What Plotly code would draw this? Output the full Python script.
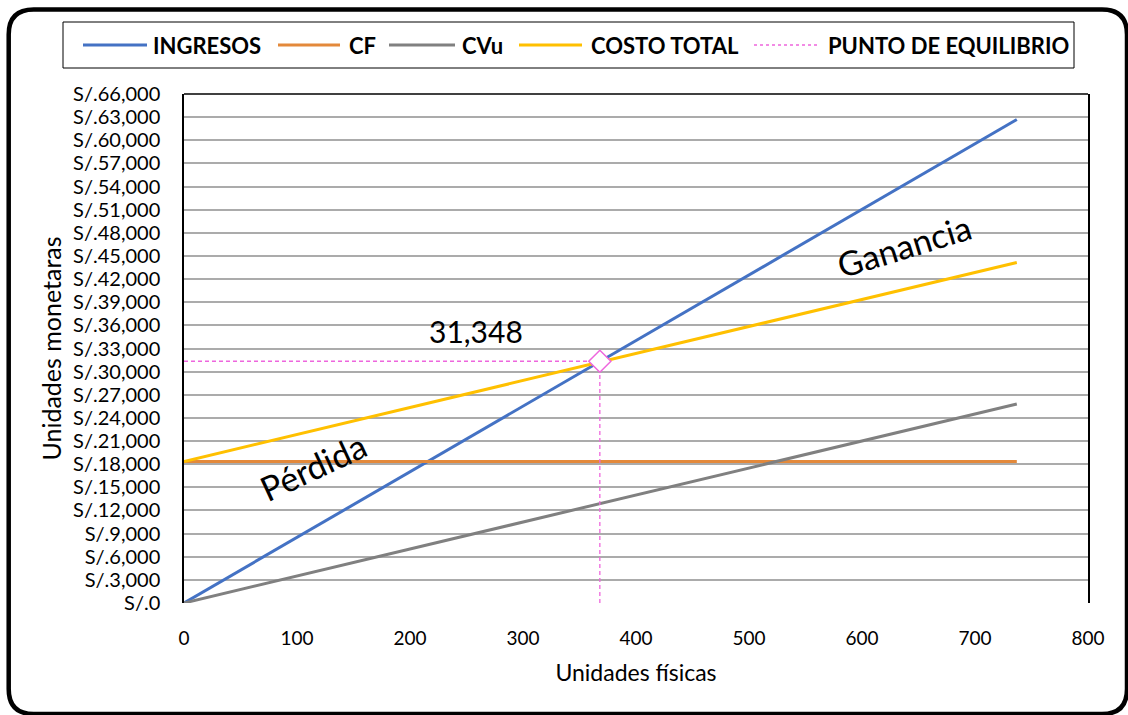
import plotly.graph_objects as go

# ---- data ----
unidades = [0, 737]
ingresos = [0, 62700]
cf = [18350, 18350]
cvu = [0, 25800]
costo_total = [18350, 44150]
pe_x = 368
pe_y = 31348

series_names = ["INGRESOS", "CF", "CVu", "COSTO TOTAL", "PUNTO DE EQUILIBRIO"]
series_colors = ["#4472C4", "#E3893B", "#808080", "#FFC000", "#EE66DD"]

W, H = 1128, 715
L, R, T, B = 184, 40, 94, 112
PW, PH = W - L - R, H - T - B


def px(x):
    return (x - L) / PW


def py(y):
    return (H - B - y) / PH


FONT = "Lato, Open Sans, sans-serif"

fig = go.Figure()
fig.add_trace(go.Scatter(x=unidades, y=ingresos, mode="lines", name=series_names[0],
                         line=dict(color=series_colors[0], width=3)))
fig.add_trace(go.Scatter(x=unidades, y=cf, mode="lines", name=series_names[1],
                         line=dict(color=series_colors[1], width=3)))
fig.add_trace(go.Scatter(x=unidades, y=cvu, mode="lines", name=series_names[2],
                         line=dict(color=series_colors[2], width=3)))
fig.add_trace(go.Scatter(x=unidades, y=costo_total, mode="lines", name=series_names[3],
                         line=dict(color=series_colors[3], width=3)))
fig.add_trace(go.Scatter(x=[0, pe_x], y=[pe_y, pe_y], mode="lines", name=series_names[4],
                         line=dict(color=series_colors[4], width=1.3, dash="4px,3px")))
fig.add_trace(go.Scatter(x=[pe_x, pe_x], y=[0, pe_y], mode="lines", showlegend=False,
                         line=dict(color=series_colors[4], width=1.3, dash="4px,3px")))
fig.add_trace(go.Scatter(x=[pe_x], y=[pe_y], mode="markers", showlegend=False,
                         marker=dict(symbol="diamond", size=17, color="white",
                                     line=dict(color=series_colors[4], width=1.5))))

shapes = []
annotations = []

# outer rounded frame
x0, y0, x1, y1, r = 8.7, 9.5, 1127, 714, 25
pts = (f"M {px(x0 + r)},{py(y0)} L {px(x1 - r)},{py(y0)} Q {px(x1)},{py(y0)} {px(x1)},{py(y0 + r)} "
       f"L {px(x1)},{py(y1 - r)} Q {px(x1)},{py(y1)} {px(x1 - r)},{py(y1)} "
       f"L {px(x0 + r)},{py(y1)} Q {px(x0)},{py(y1)} {px(x0)},{py(y1 - r)} "
       f"L {px(x0)},{py(y0 + r)} Q {px(x0)},{py(y0)} {px(x0 + r)},{py(y0)} Z")
shapes.append(dict(type="path", xref="paper", yref="paper", path=pts,
                   line=dict(color="black", width=4.5)))

# top border of plot area
shapes.append(dict(type="line", xref="paper", yref="paper", x0=0, x1=1, y0=1, y1=1,
                   line=dict(color="black", width=1.5)))

# legend box
shapes.append(dict(type="rect", xref="paper", yref="paper",
                   x0=px(63), x1=px(1074), y0=py(22), y1=py(68),
                   line=dict(color="black", width=1)))
leg_y = 45
leg_lines = [(83, 147), (278, 340), (389, 455), (519, 582), (754, 818)]
leg_text_x = [151, 347, 460, 589, 826]
for i, name in enumerate(series_names):
    a, b = leg_lines[i]
    dash = "dot" if i == 4 else "solid"
    w = 1.5 if i == 4 else 3
    shapes.append(dict(type="line", xref="paper", yref="paper",
                       x0=px(a), x1=px(b), y0=py(leg_y), y1=py(leg_y),
                       line=dict(color=series_colors[i], width=w, dash=dash)))
    annotations.append(dict(xref="paper", yref="paper", x=px(leg_text_x[i]), y=py(leg_y),
                            xanchor="left", yanchor="middle", showarrow=False, text=name,
                            font=dict(family=FONT, size=22, color="black", weight="bold")))

# labels inside chart
annotations.append(dict(xref="paper", yref="paper", x=px(476), y=py(331), showarrow=False,
                        xanchor="center", yanchor="middle",
                        text=f"{pe_y:,}", font=dict(family=FONT, size=30, color="black")))
annotations.append(dict(xref="paper", yref="paper", x=px(313), y=py(467), showarrow=False,
                        xanchor="center", yanchor="middle",
                        text="Pérdida", textangle=-25, font=dict(family=FONT, size=34, color="black")))
annotations.append(dict(xref="paper", yref="paper", x=px(904), y=py(245), showarrow=False,
                        xanchor="center", yanchor="middle",
                        text="Ganancia", textangle=-17, font=dict(family=FONT, size=34, color="black")))

fig.update_layout(
    width=W, height=H,
    margin=dict(l=L, r=R, t=T, b=B),
    paper_bgcolor="white", plot_bgcolor="white",
    showlegend=False,
    shapes=shapes, annotations=annotations,
    font=dict(family=FONT, color="black"),
)
fig.update_xaxes(range=[0, 800], dtick=100, showgrid=False, zeroline=False, showline=False,
                 ticks="", ticklabelstandoff=22, tickfont=dict(size=19, family=FONT),
                 title=dict(text="Unidades físicas", font=dict(size=23, family=FONT), standoff=16))
fig.update_yaxes(range=[0, 66000], dtick=3000, tickprefix="S/.", tickformat=",d",
                 showgrid=True, gridcolor="#ABABAB", gridwidth=1.6, zeroline=False,
                 showline=True, linecolor="black", linewidth=1.5, mirror=True,
                 ticks="", ticklabelstandoff=18, tickfont=dict(size=20, family=FONT),
                 title=dict(text="Unidades monetaras", font=dict(size=25, family=FONT), standoff=4))

fig.write_html("out.html", config={"displayModeBar": False},
               post_script="document.body.style.margin='0px';document.body.style.overflow='hidden';")
